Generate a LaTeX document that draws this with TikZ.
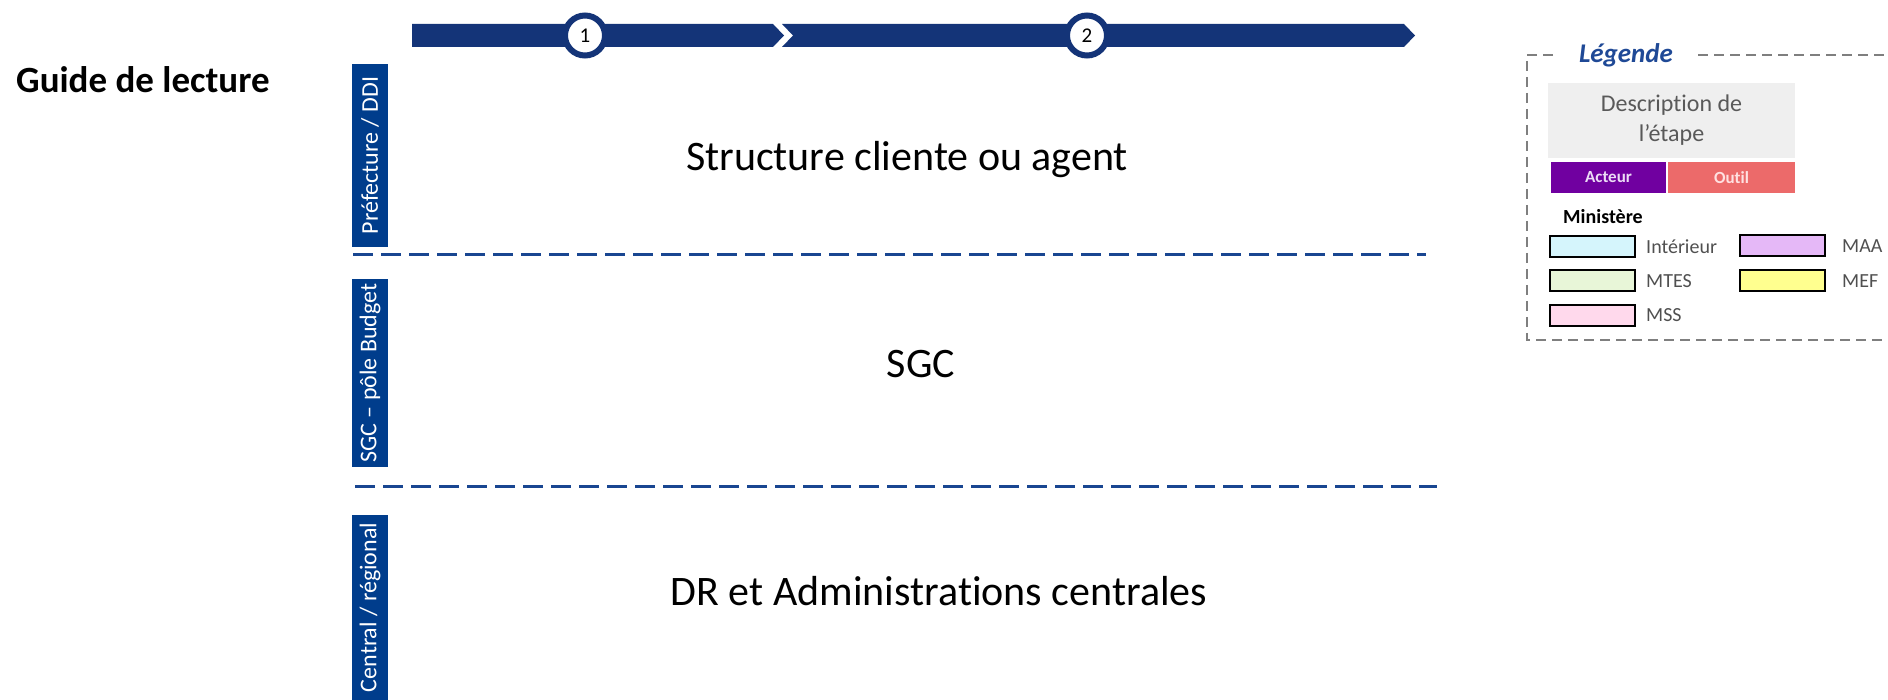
\documentclass[tikz,border=0pt]{standalone}
\usepackage{fontspec}
\setmainfont{Carlito}[Ligatures=NoCommon]
\definecolor{navybar}{RGB}{20,52,120}
\definecolor{laneblue}{RGB}{0,61,140}
\definecolor{dashblue}{RGB}{25,70,145}
\definecolor{legtitle}{RGB}{31,73,150}
\definecolor{descgray}{RGB}{239,239,239}
\definecolor{descText}{RGB}{89,89,89}
\definecolor{acteurc}{RGB}{112,0,160}
\definecolor{outilc}{RGB}{236,106,106}
\definecolor{interieurc}{RGB}{213,245,252}
\definecolor{maac}{RGB}{229,184,247}
\definecolor{mtesc}{RGB}{232,246,216}
\definecolor{mefc}{RGB}{255,255,143}
\definecolor{mssc}{RGB}{255,217,236}
\definecolor{legtext}{RGB}{80,80,80}
\definecolor{legborder}{RGB}{127,127,127}
\begin{document}
\begin{tikzpicture}[x=1pt,y=-1pt,
  barseg/.style={fill=navybar},
  stepcircle/.style={circle,draw=navybar,line width=6pt,fill=white,minimum size=40pt,inner sep=0pt,font=\fontsize{21}{24}\selectfont},
  lanebox/.style={rotate=90,fill=laneblue,text=white,minimum height=36pt,inner sep=0pt,font=\fontsize{24}{28}\selectfont},
  lanesep/.style={draw=dashblue,line width=3pt,dash pattern=on 20pt off 8pt},
  lanetext/.style={font=\fontsize{42}{50}\selectfont},
  legdash/.style={draw=legborder,line width=1.5pt,dash pattern=on 10pt off 6pt},
  tagbox/.style={minimum height=31pt,inner sep=0pt,font=\bfseries\fontsize{17}{20}\selectfont},
  swatch/.style={draw=black,line width=2pt,minimum width=85pt,minimum height=21pt,inner sep=0pt},
  swlabel/.style={anchor=west,inner sep=0pt,text=legtext,font=\fontsize{20}{24}\selectfont}
]
\useasboundingbox (0,0) rectangle (1888,700);

% title
\node[anchor=west,inner sep=0pt,font=\bfseries\fontsize{37}{42}\selectfont] (guide) at (16,80) {Guide de lecture};

% top process bar
\fill[barseg] (412,24) -- (773,24) -- (784,35.5) -- (773,47) -- (412,47) -- cycle;
\fill[barseg] (782,24) -- (1404,24) -- (1415,35.5) -- (1404,47) -- (782,47) -- (793,35.5) -- cycle;
\node[stepcircle] (s1) at (585,35.5) {1};
\node[stepcircle] (s2) at (1087,35.5) {2};

% lane labels
\node[lanebox,minimum width=183pt] (lane1) at (370,155.5) {Préfecture / DDI};
\node[lanebox,minimum width=188pt] (lane2) at (370,373) {SGC – pôle Budget};
\node[lanebox,minimum width=185pt] (lane3) at (370,607.5) {Central / régional};

% separators
\coordinate (d1a) at (353,255);
\coordinate (d1b) at (1426,255);
\coordinate (d2a) at (355,486);
\coordinate (d2b) at (1437,486);
\draw[lanesep] (d1a) -- (d1b);
\draw[lanesep] (d2a) -- (d2b);

% lane texts
\node[lanetext] (t1) at (907,160) {Structure cliente ou agent};
\node[lanetext] (t2) at (921,364) {SGC};
\node[lanetext] (t3) at (939,591) {DR et Administrations centrales};

% legend
\coordinate (lg1) at (1553,55);
\coordinate (lg2) at (1527,55);
\coordinate (lg3) at (1527,340);
\coordinate (lg4) at (1890,340);
\coordinate (lg5) at (1698,55);
\coordinate (lg6) at (1890,55);
\draw[legdash] (lg1) -- (lg2) -- (lg3) -- (lg4);
\draw[legdash] (lg5) -- (lg6);
\node[text=legtitle,font=\bfseries\itshape\fontsize{27}{32}\selectfont,inner sep=0pt] (legt) at (1626,55) {Légende};

\node[fill=descgray,minimum width=247pt,minimum height=75pt,inner sep=0pt,align=center,text=descText,font=\fontsize{24}{30}\selectfont] (desc) at (1671.5,120.5) {Description de\\l’étape};
\node[tagbox,fill=acteurc,minimum width=115pt,text={rgb,255:red,235;green,220;blue,245}] (acteur) at (1608.5,177.5) {Acteur};
\node[tagbox,fill=outilc,minimum width=127pt,text={rgb,255:red,255;green,225;blue,225}] (outil) at (1731.5,177.5) {Outil};

\node[anchor=west,inner sep=0pt,font=\bfseries\fontsize{20}{24}\selectfont] (mini) at (1563,217) {Ministère};

\node[swatch,fill=interieurc] (sw1) at (1592.5,247) {};
\node[swatch,fill=maac] (sw2) at (1782.5,246) {};
\node[swatch,fill=mtesc] (sw3) at (1592.5,281) {};
\node[swatch,fill=mefc] (sw4) at (1782.5,281) {};
\node[swatch,fill=mssc] (sw5) at (1592.5,315.5) {};
\node[swlabel] (l1) at (1646,247) {Intérieur};
\node[swlabel] (l2) at (1842,246) {MAA};
\node[swlabel] (l3) at (1646,281) {MTES};
\node[swlabel] (l4) at (1842,281) {MEF};
\node[swlabel] (l5) at (1646,315.5) {MSS};
\end{tikzpicture}
\end{document}
